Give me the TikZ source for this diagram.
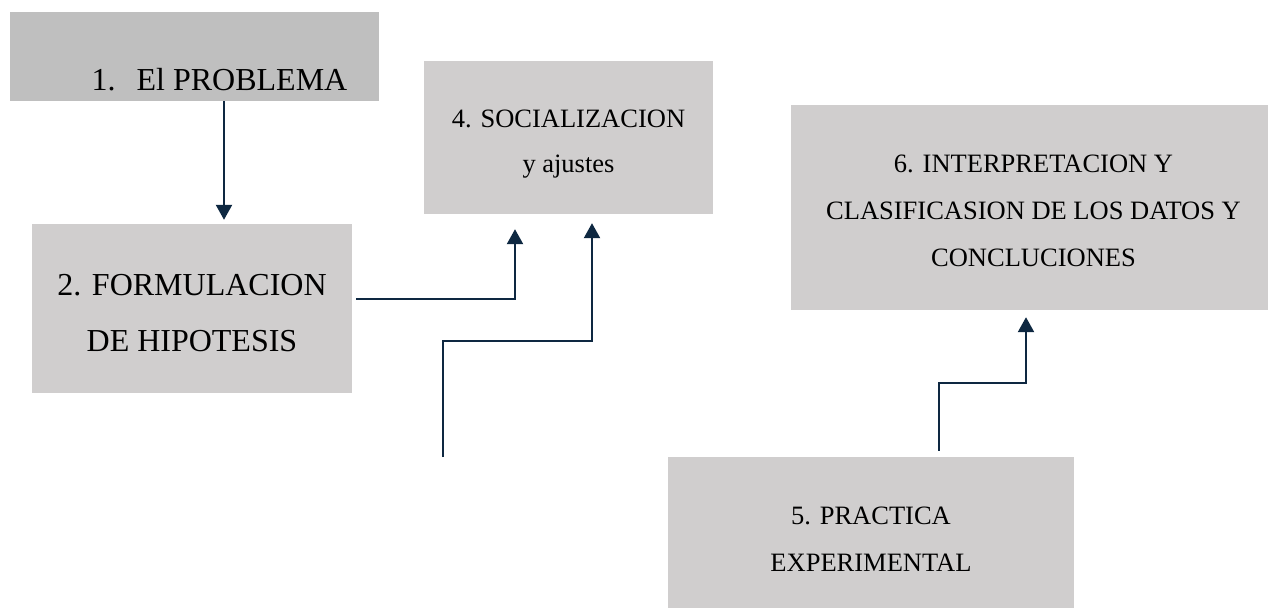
\documentclass[tikz,border=0pt]{standalone}
\usepackage{fontspec}
\setmainfont{Liberation Serif}
\usepackage{xcolor}
\definecolor{cFill}{HTML}{D0CECE}
\definecolor{cFillDark}{HTML}{BFBFBF}
\definecolor{cLine}{HTML}{0E2841}
\usetikzlibrary{arrows.meta}
\tikzset{
  node-box/.style={fill=cFill,inner sep=0pt},
  node-box-dark/.style={node-box,fill=cFillDark},
  txt-big/.style={align=center,inner sep=0pt,font=\fontsize{32}{56}\selectfont},
  txt-mid/.style={align=center,inner sep=0pt,font=\fontsize{26.5}{47}\selectfont},
  arrow/.style={-{Triangle[width=16pt,length=15pt]},line width=2.3pt,draw=cLine},
}

\begin{document}
\begin{tikzpicture}[x=1pt,y=-1pt]
  \useasboundingbox (0,0) rectangle (1269,609);
  \node[node-box-dark,minimum width=369pt,minimum height=89pt,
    label={[txt-big,xshift=25pt,yshift=-23.5pt]center:1.\hspace{21pt}El PROBLEMA}]
    (prob) at (194.5,56.5) {};
  \node[node-box,minimum width=320pt,minimum height=169pt,
    label={[txt-big,yshift=-5pt]center:2. FORMULACION\\DE HIPOTESIS}]
    (hip) at (192,308.5) {};
  \node[node-box,minimum width=289pt,minimum height=153pt,
    label={[txt-mid,font=\fontsize{26.5}{45}\selectfont,yshift=-7pt]center:4. SOCIALIZACION\\y ajustes}]
    (soc) at (568.5,137.5) {};
  \node[node-box,minimum width=477pt,minimum height=205pt,
    label={[txt-mid,xshift=4pt,yshift=-3pt]center:6. INTERPRETACION Y\\CLASIFICASION DE LOS DATOS Y\\CONCLUCIONES}]
    (intp) at (1029.5,207.5) {};
  \node[node-box,minimum width=406pt,minimum height=151pt,
    label={[txt-mid,yshift=-7pt]center:5. PRACTICA\\EXPERIMENTAL}]
    (prac) at (871,532.5) {};
  \coordinate (free) at (443,457);
  % connectors
  \draw[arrow] ([xshift=29.5pt]prob.south) -- ([xshift=32pt,yshift=4pt]hip.north);
  \draw[arrow] ([xshift=4pt,yshift=9.5pt]hip.east) -| ([xshift=-53.5pt,yshift=-15pt]soc.south);
  \draw[arrow] (free) -- ++(0,-116) -| ([xshift=23.5pt,yshift=-9pt]soc.south);
  \draw[arrow] ([xshift=68pt,yshift=6pt]prac.north) -- ++(0,-68) -| ([xshift=-3.5pt,yshift=-7pt]intp.south);
\end{tikzpicture}
\end{document}
